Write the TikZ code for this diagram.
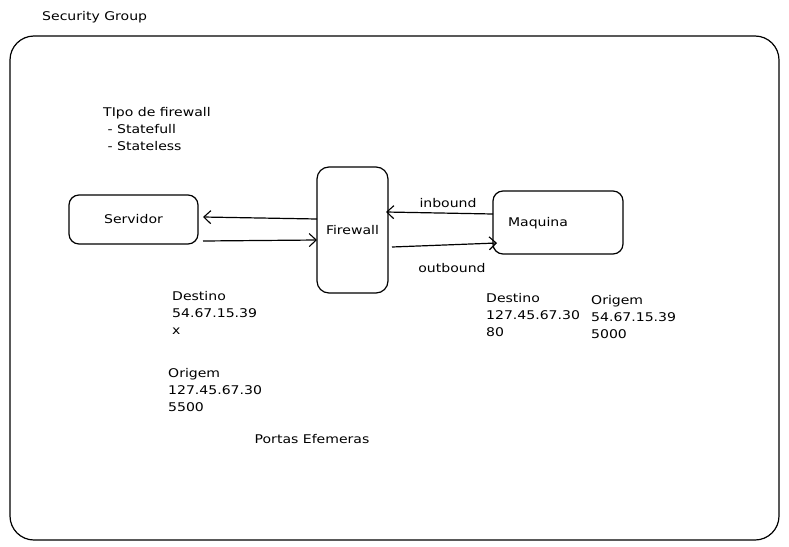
\documentclass[tikz,border=0pt]{standalone}
\usepackage{fontspec}
\setmainfont{DejaVu Sans}[FakeStretch=1.17]
\usetikzlibrary{arrows.meta}
\begin{document}
\begin{tikzpicture}[x=1pt,y=-1pt,
  every node/.style={font=\fontsize{12}{17}\selectfont, inner sep=0pt},
  boxc/.style={draw, line width=1.2pt, rounded corners=10pt},
  lbl/.style={align=left, anchor=north west},
  conn/.style={line width=1.2pt, -{Straight Barb[length=7pt,width=13pt,line width=1.1pt]}}]
\useasboundingbox (0,0) rectangle (789,546);
\node[anchor=west] (sg) at (42,17) {Security Group};
\draw[line width=1.2pt, rounded corners=24pt] (10,36) rectangle (779,540);
\node[lbl] (tipo) at (103,107) {TIpo de firewall\\\ - Statefull\\\ - Stateless};
\node[boxc, minimum width=129pt, minimum height=49pt] (srv) at (133.5,219.5) {Servidor};
\node[boxc, minimum width=71pt, minimum height=126pt, rounded corners=12pt] (fw) at (352.5,230) {Firewall};
\node[boxc, minimum width=130pt, minimum height=63pt] (maq) at (558,222.5) {};
\node (maqt) at (538,223) {Maquina};
\coordinate (a1s) at (317,219); \coordinate (a1e) at (203,217);
\draw[conn] (a1s) -- (a1e);
\coordinate (a2s) at (203,241); \coordinate (a2e) at (317,240);
\draw[conn] (a2s) -- (a2e);
\coordinate (a3s) at (493,214); \coordinate (a3e) at (386,212);
\draw[conn] (a3s) -- (a3e);
\coordinate (a4s) at (392,247); \coordinate (a4e) at (497,243);
\draw[conn] (a4s) -- (a4e);
\node (inb) at (448,203) {inbound};
\node (outb) at (452,268) {outbound};
\node[lbl] (d1) at (172,291) {Destino\\54.67.15.39\\x};
\node[lbl] (o1) at (168,368) {Origem\\127.45.67.30\\5500};
\node (pe) at (312,439) {Portas Efemeras};
\node[lbl] (d2) at (486,293) {Destino\\127.45.67.30\\80};
\node[lbl] (o2) at (591,295) {Origem\\54.67.15.39\\5000};
\end{tikzpicture}
\end{document}
